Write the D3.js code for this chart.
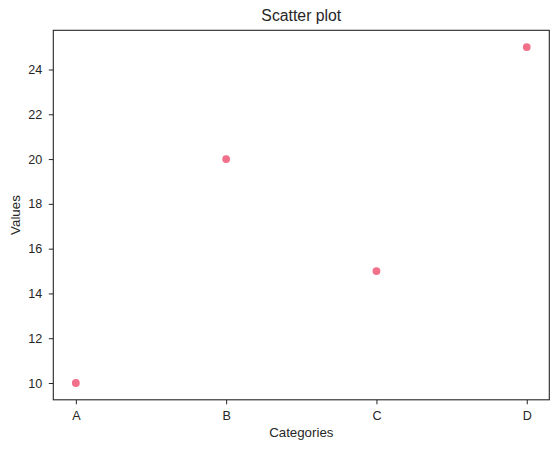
<!DOCTYPE html>
<html><head><meta charset="utf-8">
<script src="https://cdn.jsdelivr.net/npm/d3@7"></script>
<style>body{margin:0;background:#fff}svg{display:block}text{font-family:"Liberation Sans",Arial,sans-serif;fill:#262626}</style>
</head><body>
<script>
const categories = ["A","B","C","D"];
const values = [10,20,15,25];
const yTicks = [10,12,14,16,18,20,22,24];

const W=558,H=449;
const m={left:53.3,right:549.3,top:30.3,bottom:399.8};
const svg=d3.select("body").append("svg").attr("width",W).attr("height",H);

const x=d3.scaleLinear().domain([-0.15,3.15]).range([m.left,m.right]);
const y=d3.scaleLinear().domain([9.25,25.75]).range([m.bottom,m.top]);

const xAxis=d3.axisBottom(x).tickValues([0,1,2,3]).tickFormat(i=>categories[i]).tickSize(4.5).tickPadding(6.3);
const yAxis=d3.axisLeft(y).tickValues(yTicks).tickSize(4.5).tickPadding(6.5);

const gx=svg.append("g").attr("transform",`translate(0,${m.bottom})`).call(xAxis);
const gy=svg.append("g").attr("transform",`translate(${m.left},0)`).call(yAxis);
[gx,gy].forEach(g=>{
  g.select(".domain").remove();
  g.selectAll("line").attr("stroke","#262626").attr("stroke-width",1);
  g.selectAll("text").style("font-size","12.6px").attr("fill","#262626");
});

svg.append("rect").attr("x",m.left).attr("y",m.top).attr("width",m.right-m.left).attr("height",m.bottom-m.top)
  .attr("fill","none").attr("stroke","#262626").attr("stroke-width",1.1);

svg.append("g").selectAll("circle").data(values).join("circle")
  .attr("cx",(d,i)=>x(i)).attr("cy",d=>y(d)).attr("r",3.9).attr("fill","#f07189");

svg.append("text").attr("x",(m.left+m.right)/2).attr("y",21.3).attr("text-anchor","middle").style("font-size","15.8px").text("Scatter plot");
svg.append("text").attr("x",(m.left+m.right)/2).attr("y",437).attr("text-anchor","middle").style("font-size","13.3px").text("Categories");
svg.append("text").attr("transform",`translate(20,${(m.top+m.bottom)/2}) rotate(-90)`).attr("text-anchor","middle").style("font-size","13.3px").text("Values");
</script>
</body></html>
